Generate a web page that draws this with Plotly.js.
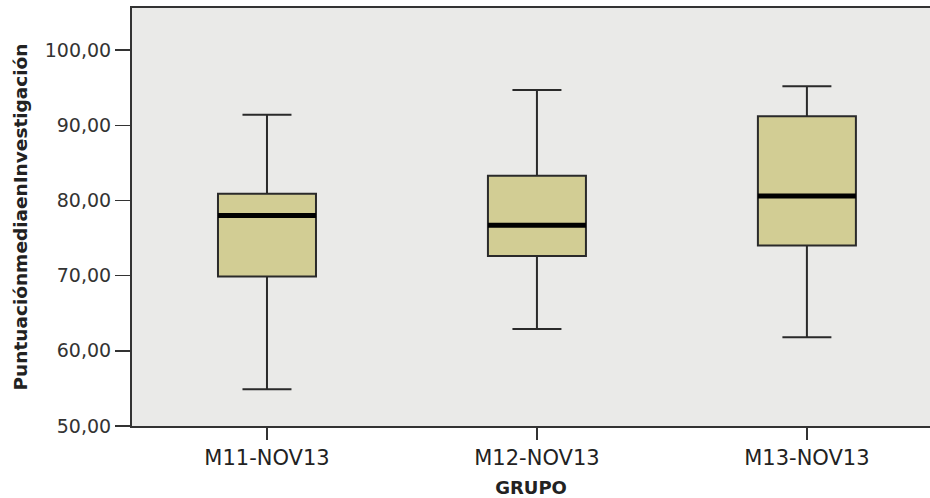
<!DOCTYPE html>
<html>
<head>
<meta charset="utf-8">
<script src="https://cdn.plot.ly/plotly-3.0.1.min.js"></script>
<style>html,body{margin:0;padding:0;background:#fff;}#chart{width:930px;height:498px;}</style>
</head>
<body>
<div id="chart"></div>
<script>
var groups = ['M11-NOV13', 'M12-NOV13', 'M13-NOV13'];
var lowerWhisker = [54.9, 62.9, 61.8];
var q1Values = [69.9, 72.6, 74.0];
var medianValues = [78.0, 76.7, 80.6];
var q3Values = [80.9, 83.3, 91.2];
var upperWhisker = [91.4, 94.7, 95.2];

var boxTrace = {
  type: 'box',
  x: groups,
  q1: q1Values,
  median: medianValues,
  q3: q3Values,
  lowerfence: lowerWhisker,
  upperfence: upperWhisker,
  width: 0.363,
  whiskerwidth: 0.5,
  fillcolor: 'rgb(210,205,148)',
  line: {color: '#2a2a2a', width: 2},
  boxpoints: false,
  hoverinfo: 'skip',
  showlegend: false
};

var medianTrace = {
  type: 'box',
  x: groups,
  q1: medianValues,
  median: medianValues,
  q3: medianValues,
  lowerfence: medianValues,
  upperfence: medianValues,
  width: 0.363,
  whiskerwidth: 0,
  fillcolor: '#000',
  line: {color: '#000', width: 5},
  boxpoints: false,
  hoverinfo: 'skip',
  showlegend: false
};

var layout = {
  width: 930,
  height: 498,
  margin: {l: 132, r: 0, t: 8, b: 72},
  paper_bgcolor: '#ffffff',
  plot_bgcolor: 'rgb(234,234,232)',
  boxmode: 'overlay',
  separators: ',.',
  showlegend: false,
  font: {family: 'DejaVu Sans', color: '#222'},
  xaxis: {
    type: 'category',
    range: [-0.5, 2.456],
    showgrid: false,
    zeroline: false,
    showline: true,
    linecolor: '#333',
    linewidth: 2,
    mirror: true,
    ticks: 'outside',
    ticklen: 12,
    tickwidth: 1.5,
    tickcolor: '#333',
    tickfont: {family: 'DejaVu Sans', size: 21, color: '#222'},
    title: {text: 'GRUPO', font: {family: 'DejaVu Sans', size: 18, color: '#222', weight: 'bold'}, standoff: 12}
  },
  yaxis: {
    range: [50, 105.6],
    tickvals: [50, 60, 70, 80, 90, 100],
    tickformat: '.2f',
    showgrid: false,
    zeroline: false,
    showline: true,
    linecolor: '#333',
    linewidth: 2,
    mirror: false,
    ticks: 'outside',
    ticklen: 15,
    tickwidth: 1.5,
    tickcolor: '#333',
    tickfont: {family: 'DejaVu Sans', size: 19, color: '#333'},
    title: {text: 'PuntuaciónmediaenInvestigación', font: {family: 'DejaVu Sans', size: 18.5, color: '#222', weight: 'bold'}, standoff: 12}
  }
};

Plotly.newPlot('chart', [boxTrace, medianTrace], layout, {displayModeBar: false, staticPlot: true});
</script>
</body>
</html>
